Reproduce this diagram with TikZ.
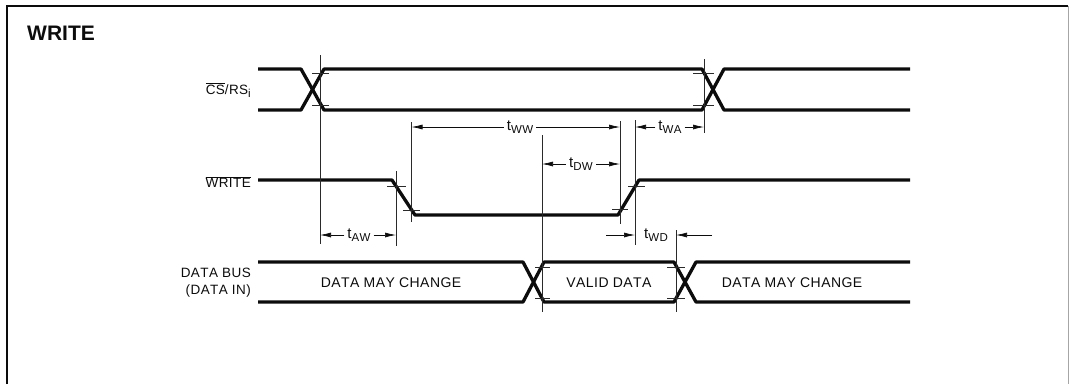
\documentclass[tikz,border=0pt]{standalone}
\usepackage{fontspec}
\setmainfont{Liberation Sans}[Kerning=Off,LetterSpace=3]
\newfontfamily\titlefont{Liberation Sans}[Kerning=On]
\usetikzlibrary{arrows.meta,positioning}
\definecolor{ink}{HTML}{0C0C0C}
\definecolor{guideink}{HTML}{2A2A2A}
\newcommand{\tsub}[2]{#1\raisebox{-3pt}{\fontsize{11.5}{12}\selectfont #2}}
\tikzset{
  wave/.style={ink,line width=3.3pt,line join=round},
  guide/.style={guideink,line width=0.8pt},
  tickmark/.style={guideink,line width=0.8pt},
  dimarrow/.style={ink,line width=0.7pt,-{Latex[length=11pt,width=5pt]}},
  siglabel/.style={text=ink,font=\fontsize{13.5}{17}\selectfont,anchor=east,align=right,inner sep=0pt},
  buslabel/.style={text=ink,font=\fontsize{14}{16}\selectfont,inner sep=0pt},
  timelabel/.style={text=ink,font=\fontsize{15}{16}\selectfont,inner sep=3pt}
}
\begin{document}
\begin{tikzpicture}[x=1pt,y=-1pt]
\useasboundingbox (0,0) rectangle (1069,384);
% frame, open at the bottom
\draw[ink,line width=1.1pt] (7,384) -- (7,6) -- (1068,6);
\draw[gray!70,line width=1pt] (1068,6) -- (1068,384);
\node[text=ink,anchor=west,inner sep=0pt,font=\titlefont\fontsize{21}{24}\selectfont\bfseries] (title) at (27,33){WRITE};

% signal names
\node[siglabel] (lblCs) at (251,90){$\overline{\mbox{CS}}$/\tsub{RS}{i}};
\node[siglabel] (lblWrite) at (251,182){$\overline{\mbox{WRITE}}$};
\node[siglabel] (lblBus) at (251,283){DATA BUS\\(DATA IN)};

% CS/RS waveform
\draw[wave] (258,69) -- (301,69) -- (324,110) -- (702,110) -- (724,69) -- (910,69);
\draw[wave] (258,110) -- (301,110) -- (324,69) -- (702,69) -- (724,110) -- (910,110);
% WRITE waveform
\draw[wave] (258,180) -- (392,180) -- (415,215) -- (618,215) -- (639,180) -- (910,180);
% data bus waveform
\draw[wave] (258,262) -- (523,262) -- (544,302) -- (674,302) -- (696,262) -- (910,262);
\draw[wave] (258,302) -- (523,302) -- (544,262) -- (674,262) -- (696,302) -- (910,302);
\node[buslabel] (dataA) at (391,283){DATA MAY CHANGE};
\node[buslabel] (dataB) at (609,283){VALID DATA};
\node[buslabel] (dataC) at (792,283){DATA MAY CHANGE};

% vertical guides
\draw[guide] (320,55) -- (320,244);
\draw[guide] (704,59) -- (704,133);
\draw[guide] (396,171) -- (396,246);
\draw[guide] (411.5,122) -- (411.5,222);
\draw[guide] (620,121) -- (620,224);
\draw[guide] (635,120) -- (635,245);
\draw[guide] (542,135) -- (542,312);
\draw[guide] (676,230) -- (676,312);

% short marks on the edges
\draw[tickmark] (312,73) -- (329,73);
\draw[tickmark] (312,105) -- (329,105);
\draw[tickmark] (693,73) -- (714,73);
\draw[tickmark] (693,105) -- (714,105);
\draw[tickmark] (387,186) -- (406,186);
\draw[tickmark] (403,210) -- (420,210);
\draw[tickmark] (612,209) -- (628,209);
\draw[tickmark] (628,186) -- (645,186);
\draw[tickmark] (535,267) -- (550,267);
\draw[tickmark] (535,298) -- (550,298);
\draw[tickmark] (667,267) -- (685,267);
\draw[tickmark] (667,298) -- (685,298);

% ends of the timing arrows
\coordinate (wwL) at (411.5,127);
\coordinate (wwR) at (620,127);
\coordinate (waL) at (635,127);
\coordinate (waR) at (704,127);
\coordinate (dwL) at (542,164);
\coordinate (dwR) at (620,164);
\coordinate (awL) at (320,235);
\coordinate (awR) at (396,235);
\coordinate (wdL) at (635,235);
\coordinate (wdR) at (676,235);
\coordinate (wdFromL) at (606,235);
\coordinate (wdFromR) at (712,235);

% timing labels
\node[timelabel] (tWW) at (520,127){\tsub{t}{WW}};
\node[timelabel] (tWA) at (670,127){\tsub{t}{WA}};
\node[timelabel] (tDW) at (581,164){\tsub{t}{DW}};
\node[timelabel] (tAW) at (359,235){\tsub{t}{AW}};
\node[timelabel] (tWD) at (656,235){\tsub{t}{WD}};

\draw[dimarrow] (tWW) -- (wwL);
\draw[dimarrow] (tWW) -- (wwR);
\draw[dimarrow] (tWA) -- (waL);
\draw[dimarrow] (tWA) -- (waR);
\draw[dimarrow] (tDW) -- (dwL);
\draw[dimarrow] (tDW) -- (dwR);
\draw[dimarrow] (tAW) -- (awL);
\draw[dimarrow] (tAW) -- (awR);
\draw[dimarrow] (wdFromL) -- (wdL);
\draw[dimarrow] (wdFromR) -- (wdR);
\end{tikzpicture}
\end{document}
